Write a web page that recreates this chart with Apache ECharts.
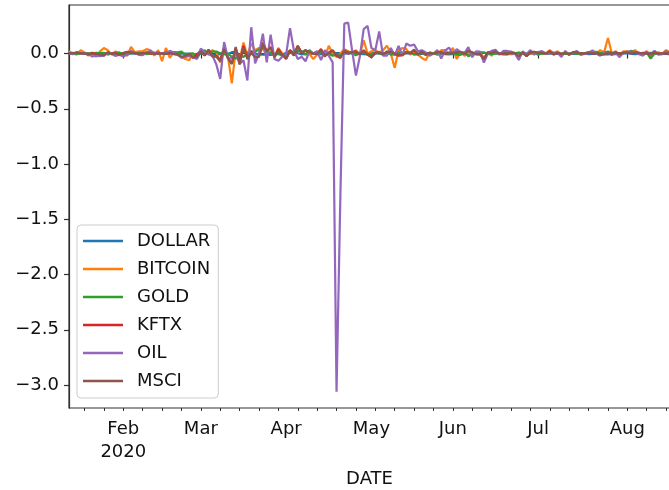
<!DOCTYPE html>
<html><head><meta charset="utf-8">
<script src="https://cdn.jsdelivr.net/npm/echarts@6/dist/echarts.min.js"></script>
<style>html,body{margin:0;padding:0;background:#fff}#c{width:669px;height:490px}</style>
</head><body><div id="c"></div>
<script>
// ---- data ----
const startDate = '2020-01-14';
const endDate = '2020-08-18';
const seriesNames = ['DOLLAR', 'BITCOIN', 'GOLD', 'KFTX', 'OIL', 'MSCI'];
const monthNames = ['Jan','Feb','Mar','Apr','May','Jun','Jul','Aug','Sep','Oct','Nov','Dec'];
const yTickValues = [0, -0.5, -1.0, -1.5, -2.0, -2.5, -3.0];

const DOLLAR = [
  0.0, -0.001, 0.001, 0.002, 0.0, -0.001, 0.001, 0.002, 0.001, -0.001,
  0.0, 0.002, -0.002, -0.005, 0.004, 0.002, 0.002, 0.003, 0.002, 0.002,
  -0.002, 0.0, 0.003, 0.001, 0.0, 0.003, 0.001, 0.004, -0.006, -0.001,
  0.0, -0.002, -0.009, -0.004, -0.004, -0.006, 0.002, -0.008, -0.01, -0.005,
  0.013, -0.004, 0.012, 0.012, -0.012, 0.016, 0.01, 0.02, 0.0, -0.008,
  -0.01, -0.01, -0.012, -0.008, 0.01, -0.008, 0.005, 0.007, 0.006, 0.003,
  -0.008, -0.003, -0.006, 0.0, -0.004, -0.006, 0.005, 0.002, -0.002, 0.004,
  0.003, -0.001, 0.002, 0.002, -0.002, -0.003, -0.005, -0.008, 0.002, 0.004,
  0.002, 0.004, 0.002, -0.004, 0.004, -0.003, 0.001, 0.001, 0.002, -0.008,
  -0.002, -0.004, 0.003, 0.002, 0.0, -0.007, 0.005, -0.006, -0.007, -0.003,
  -0.006, -0.002, -0.007, -0.001, -0.002, -0.001, -0.006, 0.008, 0.0, -0.003,
  0.001, 0.002, 0.003, 0.003, -0.006, -0.003, 0.006, 0.001, 0.0, -0.001,
  -0.002, 0.001, -0.002, 0.0, -0.002, 0.004, -0.003, -0.004, 0.001, -0.001,
  -0.004, -0.004, 0.003, 0.0, -0.005, -0.004, -0.004, 0.002, -0.007, -0.008,
  -0.004, -0.006, 0.004, 0.001, 0.004, -0.003, -0.006, -0.004, 0.007, 0.0,
  0.005, -0.001, -0.004, -0.002, -0.004, -0.005
];
const BITCOIN = [
  0.02, 0.0, -0.01, 0.03, 0.01, -0.02, 0.01, -0.03, 0.02, 0.05,
  0.03, -0.01, 0.02, -0.01, 0.0, -0.02, 0.06, 0.01, 0.02, 0.02,
  0.04, 0.03, -0.02, 0.03, -0.07, 0.05, -0.04, 0.01, 0.0, -0.03,
  -0.05, -0.06, 0.0, -0.02, 0.02, -0.01, 0.0, 0.03, 0.01, -0.08,
  0.02, -0.03, -0.27, 0.03, -0.06, 0.1, -0.02, 0.09, 0.03, 0.05,
  0.04, -0.01, 0.02, -0.03, 0.05, 0.0, -0.04, 0.03, 0.0, 0.07,
  0.0, 0.03, 0.0, -0.05, -0.01, 0.03, -0.03, 0.07, 0.0, -0.03,
  0.0, 0.04, 0.02, 0.0, 0.03, -0.01, 0.12, 0.0, 0.02, 0.03,
  0.01, 0.03, 0.07, 0.0, -0.13, 0.03, 0.05, 0.04, -0.01, 0.02,
  -0.01, -0.04, -0.06, 0.01, 0.0, -0.01, 0.03, 0.03, 0.0, 0.05,
  -0.05, 0.01, -0.02, 0.0, 0.0, 0.0, 0.01, -0.04, 0.01, -0.02,
  0.02, 0.0, -0.01, -0.01, 0.0, 0.0, -0.03, 0.0, -0.02, 0.0,
  0.0, 0.01, 0.0, 0.0, 0.03, 0.0, 0.02, -0.01, 0.0, -0.01,
  0.01, 0.0, -0.01, 0.0, 0.01, 0.02, 0.0, 0.03, 0.01, 0.14,
  0.0, 0.02, -0.01, 0.02, 0.02, 0.0, 0.03, 0.0, 0.0, 0.02,
  -0.03, 0.0, 0.01, 0.0, 0.03, 0.01
];
const GOLD = [
  0.0, 0.005, -0.003, 0.0, 0.0, 0.002, 0.0, 0.005, 0.004, 0.006,
  -0.01, 0.002, 0.005, 0.01, -0.013, -0.01, 0.002, 0.004, 0.004, 0.004,
  -0.005, 0.0, 0.006, 0.004, 0.0, 0.01, 0.01, 0.012, 0.01, 0.017,
  -0.01, 0.0, 0.002, -0.045, 0.015, 0.03, -0.005, 0.018, 0.017, 0.002,
  -0.009, 0.0, -0.03, -0.046, -0.02, -0.03, 0.0, 0.01, 0.015, 0.037,
  0.057, 0.008, 0.003, -0.006, -0.005, -0.02, 0.0, 0.025, 0.01, 0.023,
  0.02, -0.01, 0.03, 0.0, 0.015, 0.007, -0.01, -0.005, -0.02, -0.008,
  -0.02, 0.012, 0.014, 0.005, -0.016, 0.005, 0.006, -0.005, -0.005, 0.01,
  0.0, -0.01, 0.02, -0.01, -0.005, 0.01, 0.008, 0.008, 0.01, -0.008,
  -0.008, 0.007, -0.015, 0.008, 0.0, -0.007, -0.005, 0.002, 0.0, 0.005,
  -0.01, -0.013, 0.013, -0.025, -0.002, 0.013, 0.013, 0.008, -0.004, -0.005,
  0.0, -0.002, 0.007, 0.0, 0.012, 0.002, 0.008, 0.0, -0.003, 0.005,
  0.005, -0.01, 0.002, 0.0, 0.005, 0.008, 0.004, 0.0, -0.004, 0.002,
  0.0, -0.004, 0.001, 0.003, 0.01, 0.014, 0.015, 0.003, 0.008, 0.018,
  0.006, 0.006, -0.001, 0.003, 0.01, 0.025, 0.014, 0.003, -0.018, 0.01,
  -0.046, 0.0, 0.0, -0.005, 0.02, 0.006
];
const KFTX = [
  0.005, -0.004, 0.01, 0.0, 0.0, -0.01, 0.003, -0.005, -0.02, -0.02,
  0.01, 0.0, 0.005, -0.01, 0.0, 0.015, 0.012, 0.004, -0.006, 0.003,
  0.01, -0.002, 0.003, 0.0, 0.0, -0.003, 0.006, -0.005, -0.01, -0.035,
  -0.025, -0.005, -0.04, -0.01, 0.03, -0.02, 0.035, -0.03, -0.02, -0.06,
  0.06, -0.04, -0.09, 0.05, -0.08, 0.07, -0.04, 0.02, -0.03, -0.02,
  0.1, 0.02, 0.06, -0.03, 0.04, -0.01, -0.05, 0.03, -0.02, 0.07,
  0.0, 0.03, 0.01, 0.0, 0.0, 0.04, -0.02, 0.01, 0.03, -0.02,
  -0.04, 0.03, 0.0, 0.015, 0.02, -0.01, 0.03, -0.01, -0.035, 0.005,
  0.01, -0.01, 0.015, 0.018, 0.0, -0.02, -0.015, 0.012, 0.0, 0.03,
  -0.01, 0.02, -0.008, 0.0, 0.0, 0.015, 0.012, 0.0, 0.005, 0.004,
  0.012, 0.015, -0.004, 0.025, 0.01, -0.008, -0.005, -0.055, 0.01, 0.008,
  0.02, -0.004, 0.0, -0.005, 0.008, 0.004, -0.027, 0.012, -0.024, 0.015,
  0.015, 0.005, 0.006, 0.0, 0.02, -0.01, 0.007, -0.006, 0.01, -0.01,
  0.013, 0.015, -0.004, 0.0, 0.008, 0.002, 0.0, -0.012, -0.006, 0.007,
  -0.006, 0.012, -0.004, 0.008, 0.008, 0.004, 0.006, 0.006, 0.0, 0.002,
  -0.008, 0.014, -0.002, 0.0, 0.0, 0.002
];
const OIL = [
  0.0, -0.007, 0.012, 0.0, 0.0, -0.003, -0.027, -0.02, -0.025, -0.019,
  0.006, -0.003, -0.022, -0.011, -0.028, -0.01, 0.023, 0.004, -0.012, -0.015,
  0.007, 0.025, 0.005, 0.012, 0.0, 0.0, 0.024, 0.009, -0.007, -0.037,
  -0.03, -0.023, -0.034, -0.049, 0.044, 0.009, -0.008, -0.019, -0.1, -0.23,
  0.104, -0.04, -0.045, 0.007, -0.095, -0.061, -0.244, 0.238, -0.09, 0.0,
  0.18, -0.08, 0.17, -0.05, -0.066, -0.03, -0.008, 0.23, 0.03, -0.05,
  -0.03, -0.07, 0.02, 0.0, 0.02, -0.06, 0.03, -0.02, -0.08, -3.06,
  -1.27, 0.27, 0.28, 0.03, -0.2, -0.03, 0.22, 0.25, 0.05, 0.03,
  0.2, -0.02, -0.02, 0.05, -0.02, 0.07, -0.02, 0.09, 0.07, 0.08,
  0.02, 0.03, 0.01, -0.02, 0.0, 0.03, -0.045, 0.027, 0.053, 0.0,
  0.039, 0.013, 0.003, 0.057, -0.034, 0.02, 0.017, -0.082, -0.002, 0.024,
  0.034, -0.011, 0.023, 0.023, 0.018, -0.002, -0.058, 0.019, -0.006, 0.031,
  -0.011, 0.014, 0.021, 0.0, 0.0, 0.0, 0.007, -0.031, 0.023, -0.011,
  0.005, 0.023, -0.011, -0.004, 0.005, 0.028, -0.001, -0.02, 0.005, 0.008,
  -0.013, 0.006, -0.033, 0.009, 0.018, 0.017, 0.012, -0.006, -0.017, 0.017,
  -0.008, 0.025, -0.01, -0.005, 0.021, 0.0
];
const MSCI = [
  0.0, 0.003, 0.008, 0.003, 0.0, -0.003, 0.0, -0.002, -0.01, -0.015,
  0.01, -0.005, 0.003, -0.015, 0.006, 0.012, 0.01, 0.003, -0.004, 0.002,
  0.005, 0.006, -0.002, 0.002, 0.0, -0.004, 0.004, -0.004, -0.007, -0.03,
  -0.02, -0.004, -0.035, -0.03, 0.02, -0.015, 0.03, -0.025, -0.03, -0.07,
  0.04, -0.045, -0.095, 0.06, -0.1, 0.05, -0.05, 0.005, -0.033, -0.03,
  0.084, 0.022, 0.053, -0.033, 0.024, -0.01, -0.044, 0.019, -0.014, 0.064,
  0.012, 0.028, 0.013, 0.0, -0.005, 0.03, -0.025, 0.005, 0.025, -0.012,
  -0.03, 0.02, 0.0, 0.012, 0.015, -0.005, 0.025, -0.01, -0.03, 0.0,
  0.01, -0.005, 0.012, 0.015, 0.0, -0.015, -0.015, 0.01, 0.003, 0.035,
  -0.008, 0.017, -0.007, 0.002, 0.0, 0.012, 0.013, -0.003, 0.005, 0.005,
  0.01, 0.013, -0.003, 0.022, 0.01, -0.006, -0.004, -0.05, 0.01, 0.005,
  0.02, -0.003, 0.0, -0.004, 0.007, 0.005, -0.025, 0.01, -0.02, 0.012,
  0.012, 0.005, 0.005, 0.002, 0.015, -0.008, 0.007, -0.005, 0.008, -0.008,
  0.01, 0.012, -0.003, 0.002, 0.006, 0.003, 0.002, -0.01, -0.005, 0.006,
  -0.005, 0.01, -0.008, 0.005, 0.008, 0.005, 0.007, 0.006, 0.0, 0.003,
  -0.003, 0.012, -0.002, 0.0, 0.003, 0.004
];

// ---- build ----
function businessDays(a, b) {
  const out = [];
  const d = new Date(a + 'T00:00:00Z');
  const e = new Date(b + 'T00:00:00Z');
  while (d <= e) {
    const w = d.getUTCDay();
    if (w !== 0 && w !== 6) out.push(d.toISOString().slice(0, 10));
    d.setUTCDate(d.getUTCDate() + 1);
  }
  return out;
}
const dates = businessDays(startDate, endDate);
const monthOf = s => parseInt(s.slice(5, 7), 10) - 1;
const isMonthStart = i => i > 0 && monthOf(dates[i]) !== monthOf(dates[i - 1]);
const isMonday = i => new Date(dates[i] + 'T00:00:00Z').getUTCDay() === 1;
let firstMonthIdx = -1;
for (let i = 0; i < dates.length; i++) if (isMonthStart(i)) { firstMonthIdx = i; break; }

const values = { DOLLAR, BITCOIN, GOLD, KFTX, OIL, MSCI };
const colors = ['#1f77b4', '#ff7f0e', '#2ca02c', '#d62728', '#9467bd', '#8c564b'];
const FONT = 'DejaVu Sans';
const AX = '#303030';
const FS = 18;

const chart = echarts.init(document.getElementById('c'), null, { renderer: 'canvas' });
chart.setOption({
  animation: false,
  backgroundColor: '#fff',
  textStyle: { fontFamily: FONT },
  grid: {
    left: 69, right: -1, top: 5, bottom: 82,
    outerBoundsMode: 'none', containLabel: false,
    show: true, borderColor: AX, borderWidth: 1.2, backgroundColor: 'transparent'
  },
  legend: {
    orient: 'vertical', left: 77, top: 225,
    data: seriesNames,
    icon: 'rect', itemWidth: 40, itemHeight: 2.5,
    itemGap: 10,
    padding: [7, 8, 8, 6],
    backgroundColor: 'rgba(255,255,255,0.8)',
    borderColor: '#cccccc', borderWidth: 1, borderRadius: 4,
    textStyle: { fontFamily: FONT, fontSize: FS, color: '#111', lineHeight: 18, padding: [0, 0, 0, 9] }
  },
  xAxis: [{
    type: 'category', data: dates, boundaryGap: false,
    name: 'DATE', nameLocation: 'middle', nameGap: 62,
    nameTextStyle: { fontFamily: FONT, fontSize: FS, color: '#111' },
    axisLine: { show: true, lineStyle: { color: AX, width: 1.2 } },
    axisTick: { show: true, length: 5, lineStyle: { color: AX, width: 1.2 }, interval: (i) => isMonthStart(i) },
    axisLabel: {
      interval: (i) => isMonthStart(i),
      fontFamily: FONT, fontSize: FS, color: '#111', lineHeight: 23, margin: 10,
      formatter: (v, i) => { const m = monthNames[monthOf(v)]; return i === firstMonthIdx ? m + '\n' + v.slice(0, 4) : m; }
    },
    splitLine: { show: false }
  }, {
    type: 'category', data: dates, boundaryGap: false, position: 'bottom',
    axisLine: { show: false },
    axisTick: { show: true, length: 3, lineStyle: { color: AX, width: 1 }, interval: (i) => isMonday(i) },
    axisLabel: { show: false },
    splitLine: { show: false }
  }],
  yAxis: {
    type: 'value', min: -3.208, max: 0.439,
    axisLine: { show: true, lineStyle: { color: AX, width: 1.2 } },
    axisTick: { show: true, length: 5, lineStyle: { color: AX, width: 1.2 }, customValues: yTickValues },
    axisLabel: {
      customValues: yTickValues, fontFamily: FONT, fontSize: FS, color: '#111', margin: 10,
      formatter: v => (v < 0 ? '\u2212' : '') + Math.abs(v).toFixed(1)
    },
    splitLine: { show: false }
  },
  series: seriesNames.map((n, k) => ({
    name: n, type: 'line', data: values[n], xAxisIndex: 0,
    showSymbol: false, symbol: 'none',
    color: colors[k],
    lineStyle: { color: colors[k], width: 2.2 },
    z: 2 + k
  }))
});
</script>
</body></html>
